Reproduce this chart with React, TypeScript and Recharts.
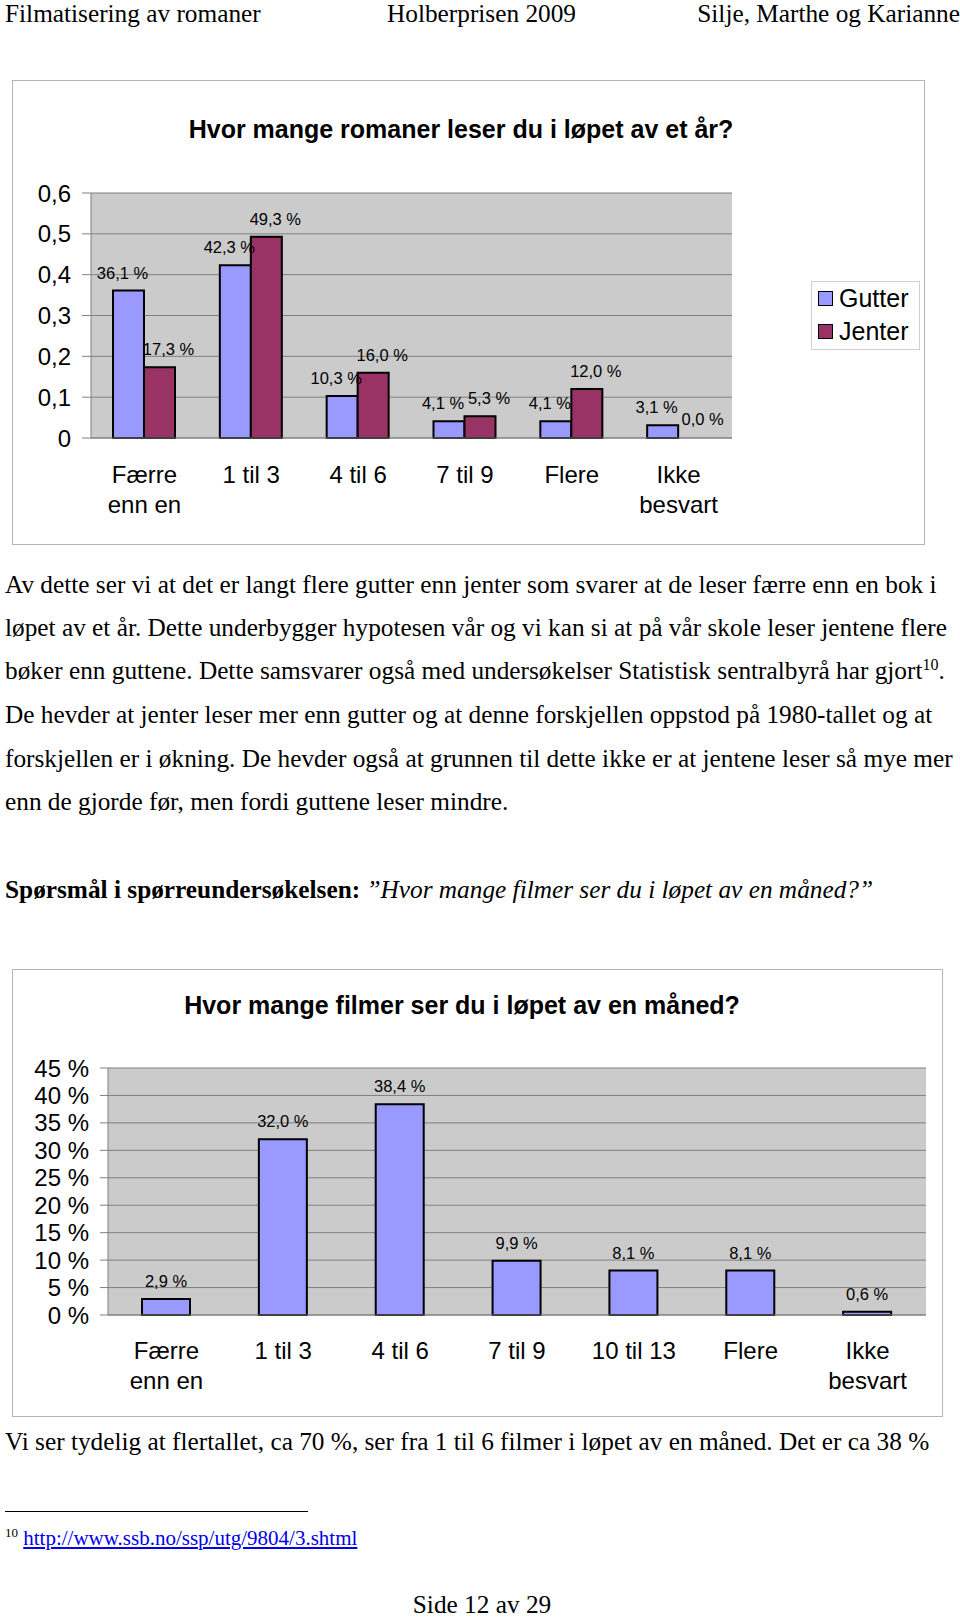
import { BarChart, Bar, XAxis, YAxis, CartesianGrid, LabelList, Legend, Rectangle } from 'recharts'

const bookCategories = ['Færre\nenn en', '1 til 3', '4 til 6', '7 til 9', 'Flere', 'Ikke\nbesvart']
const bookBoys = [0.361, 0.423, 0.103, 0.041, 0.041, 0.031]
const bookGirls = [0.173, 0.493, 0.16, 0.053, 0.12, 0.0]
const bookTicks = [0, 0.1, 0.2, 0.3, 0.4, 0.5, 0.6]

const filmCategories = ['Færre\nenn en', '1 til 3', '4 til 6', '7 til 9', '10 til 13', 'Flere', 'Ikke\nbesvart']
const filmShares = [2.9, 32.0, 38.4, 9.9, 8.1, 8.1, 0.6]
const filmTicks = [0, 5, 10, 15, 20, 25, 30, 35, 40, 45]

const SANS = '"Liberation Sans", Arial, sans-serif'
const SERIF = '"Liberation Serif", "Times New Roman", serif'
const GRID = '#808080'
const PLOT_BG = '#cbcbcb'

const bookData = bookCategories.map((name, i) => ({ name, gutter: bookBoys[i], jenter: bookGirls[i] }))
const filmData = filmCategories.map((name, i) => ({ name, share: filmShares[i] }))
const bookEdges = [...bookCategories.map((_, i) => i), bookCategories.length]
const filmEdges = [...filmCategories.map((_, i) => i), filmCategories.length]

const pct = (v: number) => v.toFixed(1).replace('.', ',') + ' %'

function CategoryTick({ x, y, payload }: any) {
  const lines = String(payload.value).split('\n')
  return (
    <text x={x} y={y} textAnchor="middle" fontSize={24} fill="#000" fontFamily={SANS}>
      {lines.map((l, i) => (
        <tspan key={i} x={x} dy={i === 0 ? '0.71em' : 30}>{l}</tspan>
      ))}
    </text>
  )
}

function barLabel(shift: number, fmt: (v: number) => string) {
  return (props: any) => {
    const { x, y, width, value } = props
    return (
      <text x={x + width / 2 + shift} y={y - 12} textAnchor="middle" fontSize={16.5} fill="#000" fontFamily={SANS}>
        {fmt(Number(value))}
      </text>
    )
  }
}

// zero values still get a label, but no visible bar
function HideZero(props: any) {
  if (props.value !== undefined && Number(props.value) === 0) return <g />
  return <Rectangle {...props} />
}

function BoxLegend({ payload }: any) {
  return (
    <div style={{ border: '1.5px solid #cfcfcf', background: '#fff', width: 109, height: 69, boxSizing: 'border-box', padding: '0 0 0 6px', fontFamily: SANS }}>
      {(payload || []).map((p: any) => (
        <div key={p.value} style={{ display: 'flex', alignItems: 'center', height: 33, fontSize: 25, color: '#000' }}>
          <span style={{ display: 'inline-block', width: 13, height: 13, border: '1.5px solid #000', background: p.color, marginRight: 6 }} />
          {p.value}
        </div>
      ))}
    </div>
  )
}

function Line({ top, children, left = 5, style }: any) {
  return (
    <div style={{ position: 'absolute', left, top: top - 14, lineHeight: '28px', whiteSpace: 'nowrap', fontSize: 25.3, ...style }}>
      {children}
    </div>
  )
}

export default function App() {
  return (
    <div style={{ position: 'absolute', left: 0, top: 0, width: 960, height: 1620, background: '#fff', fontFamily: SERIF, color: '#000', overflow: 'hidden' }}>
      {/* page header */}
      <Line top={13}>Filmatisering av romaner</Line>
      <Line top={13} left={387}>Holberprisen 2009</Line>
      <Line top={13} left={0} style={{ width: 960, textAlign: 'right' }}>Silje, Marthe og Karianne</Line>

      {/* chart 1 */}
      <div style={{ position: 'absolute', left: 12, top: 80, width: 913, height: 465, border: '1.5px solid #b4b4b4', boxSizing: 'border-box' }} />
      <div style={{ position: 'absolute', left: 461, top: 129, transform: 'translate(-50%, -50%)', fontFamily: SANS, fontWeight: 'bold', fontSize: 25, whiteSpace: 'nowrap' }}>
        Hvor mange romaner leser du i løpet av et år?
      </div>
      <div style={{ position: 'absolute', left: 0, top: 0 }}>
        <BarChart width={960} height={560} data={bookData} margin={{ top: 193, right: 228, bottom: 120, left: 0 }} barGap={0}>
          <CartesianGrid horizontal vertical={false} stroke={GRID} fill={PLOT_BG} fillOpacity={1} />
          <XAxis dataKey="name" height={1} tickSize={0} tickMargin={28} axisLine={{ stroke: GRID }} tickLine={false} tick={<CategoryTick />} interval={0} />
          <XAxis xAxisId="edges" type="number" domain={[0, bookCategories.length]} ticks={bookEdges} height={1} tickSize={7} axisLine={false} tickLine={{ stroke: GRID }} tick={false} allowDataOverflow />
          <YAxis width={91} domain={[0, 0.6]} ticks={bookTicks} interval={0} tickSize={9} tickMargin={11} tickLine={{ stroke: GRID }} axisLine={{ stroke: GRID }} tick={{ fontSize: 24, fill: '#000', fontFamily: SANS }} tickFormatter={(v: number) => (v === 0 ? '0' : v.toFixed(1).replace('.', ','))} />
          <YAxis yAxisId="r" orientation="right" width={0} tick={false} tickLine={false} axisLine={{ stroke: GRID }} />
          <Legend layout="vertical" align="center" verticalAlign="middle" wrapperStyle={{ left: 811, top: 281, width: 109, height: 69 }} content={<BoxLegend />} />
          <Bar dataKey="gutter" name="Gutter" fill="#9999ff" stroke="#000" strokeWidth={2} barSize={31} isAnimationActive={false}>
            <LabelList dataKey="gutter" content={barLabel(-6, (v) => pct(v * 100))} />
          </Bar>
          <Bar dataKey="jenter" name="Jenter" fill="#993366" stroke="#000" strokeWidth={2} barSize={31} minPointSize={1} shape={<HideZero />} isAnimationActive={false}>
            <LabelList dataKey="jenter" content={barLabel(9, (v) => pct(v * 100))} />
          </Bar>
        </BarChart>
      </div>

      {/* text */}
      <Line top={584}>Av dette ser vi at det er langt flere gutter enn jenter som svarer at de leser færre enn en bok i</Line>
      <Line top={627}>løpet av et år. Dette underbygger hypotesen vår og vi kan si at på vår skole leser jentene flere</Line>
      <Line top={670}>bøker enn guttene. Dette samsvarer også med undersøkelser Statistisk sentralbyrå har gjort<sup style={{ fontSize: 16, verticalAlign: 9, lineHeight: 0 }}>10</sup>.</Line>
      <Line top={714}>De hevder at jenter leser mer enn gutter og at denne forskjellen oppstod på 1980-tallet og at</Line>
      <Line top={758}>forskjellen er i økning. De hevder også at grunnen til dette ikke er at jentene leser så mye mer</Line>
      <Line top={801}>enn de gjorde før, men fordi guttene leser mindre.</Line>
      <Line top={889}><b>Spørsmål i spørreundersøkelsen:</b> <i>”Hvor mange filmer ser du i løpet av en måned?”</i></Line>

      {/* chart 2 */}
      <div style={{ position: 'absolute', left: 12, top: 969, width: 931, height: 448, border: '1.5px solid #b4b4b4', boxSizing: 'border-box' }} />
      <div style={{ position: 'absolute', left: 462, top: 1005, transform: 'translate(-50%, -50%)', fontFamily: SANS, fontWeight: 'bold', fontSize: 25, whiteSpace: 'nowrap' }}>
        Hvor mange filmer ser du i løpet av en måned?
      </div>
      <div style={{ position: 'absolute', left: 0, top: 900 }}>
        <BarChart width={960} height={560} data={filmData} margin={{ top: 168, right: 34, bottom: 143, left: 0 }}>
          <CartesianGrid horizontal vertical={false} stroke={GRID} fill={PLOT_BG} fillOpacity={1} />
          <XAxis dataKey="name" height={1} tickSize={0} tickMargin={27} axisLine={{ stroke: GRID }} tickLine={false} tick={<CategoryTick />} interval={0} />
          <XAxis xAxisId="edges" type="number" domain={[0, filmCategories.length]} ticks={filmEdges} height={1} tickSize={7} axisLine={false} tickLine={{ stroke: GRID }} tick={false} allowDataOverflow />
          <YAxis width={108} domain={[0, 45]} ticks={filmTicks} interval={0} tickSize={8} tickMargin={11} tickLine={{ stroke: GRID }} axisLine={{ stroke: GRID }} tick={{ fontSize: 24, fill: '#000', fontFamily: SANS }} tickFormatter={(v: number) => `${v} %`} />
          <YAxis yAxisId="r" orientation="right" width={0} tick={false} tickLine={false} axisLine={{ stroke: GRID }} />
          <Bar dataKey="share" fill="#9999ff" stroke="#000" strokeWidth={2} barSize={48} isAnimationActive={false}>
            <LabelList dataKey="share" content={barLabel(0, pct)} />
          </Bar>
        </BarChart>
      </div>

      <Line top={1441}>Vi ser tydelig at flertallet, ca 70 %, ser fra 1 til 6 filmer i løpet av en måned. Det er ca 38 %</Line>
      <div style={{ position: 'absolute', left: 5, top: 1511, width: 303, height: 0, borderTop: '1.3px solid #000' }} />
      <Line top={1538} style={{ fontSize: 21 }}>
        <sup style={{ fontSize: 13, verticalAlign: 8, lineHeight: 0 }}>10</sup>{' '}
        <a href="#" style={{ color: '#0000ee', textDecoration: 'underline' }}>http://www.ssb.no/ssp/utg/9804/3.shtml</a>
      </Line>
      <div style={{ position: 'absolute', left: 0, top: 1593, width: 964, height: 23, lineHeight: '23px', fontSize: 25.3, textAlign: 'center', whiteSpace: 'nowrap' }}>Side 12 av 29</div>
    </div>
  )
}
